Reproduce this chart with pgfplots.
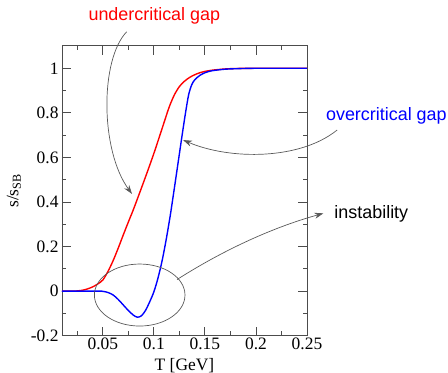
\documentclass[border=0pt]{standalone}
\usepackage{fontspec}
\setmainfont{Liberation Serif}
\newfontfamily\arial{Liberation Sans}
\usepackage{pgfplots}
\pgfplotsset{compat=1.18}
\usetikzlibrary{arrows.meta}
\begin{document}
\begin{tikzpicture}
\path[use as bounding box] (-62bp,-37.3bp) rectangle (386bp,335.7bp);
\begin{axis}[
  at={(0,0)}, anchor=south west,
  scale only axis, width=245bp, height=289.7bp,
  xmin=0.01, xmax=0.25, ymin=-0.2, ymax=1.1,
  xtick={0.05,0.1,0.15,0.2,0.25},
  xticklabels={0.05,0.1,0.15,0.2,0.25},
  ytick={-0.2,0,0.2,0.4,0.6,0.8,1},
  yticklabels={-0.2,0,0.2,0.4,0.6,0.8,1},
  minor xtick={0.025,0.075,0.125,0.175,0.225},
  minor ytick={-0.1,0.1,0.3,0.5,0.7,0.9},
  tick align=inside,
  major tick length=9bp, minor tick length=4.5bp,
  axis line style={black!70, line width=1pt},
  every tick/.style={black!70, line width=0.9pt},
  tick label style={font=\fontsize{17.5}{17.5}\selectfont, black},
  xticklabel style={yshift=1bp},
  /pgf/number format/assume math mode=true,
  xlabel={T [GeV]}, ylabel={s/s\textsubscript{SB}},
  every axis x label/.style={at={(axis description cs:0.5,-0.1184)}, anchor=base, font=\fontsize{17.5}{17.5}\selectfont},
  every axis y label/.style={at={(axis description cs:-0.1784,0.5)}, anchor=base, rotate=90, font=\fontsize{17.5}{17.5}\selectfont},
  clip=false,
]
\addplot[red, line width=1.4pt, smooth, tension=0.5] coordinates {
(0.010,0) (0.020,0) (0.025,0.001) (0.030,0.004) (0.035,0.010) (0.040,0.019)
(0.045,0.032) (0.050,0.050) (0.055,0.088) (0.060,0.136) (0.065,0.192)
(0.070,0.252) (0.075,0.310) (0.080,0.367) (0.085,0.428) (0.090,0.490)
(0.095,0.553) (0.100,0.618) (0.105,0.687) (0.110,0.757) (0.115,0.826)
(0.120,0.880) (0.125,0.918) (0.130,0.942) (0.135,0.959) (0.140,0.971)
(0.145,0.980) (0.150,0.986) (0.155,0.990) (0.160,0.993) (0.170,0.997)
(0.180,0.999) (0.200,1.000) (0.250,1.000)
};
\addplot[blue, line width=1.4pt, smooth, tension=0.5] coordinates {
(0.010,0) (0.045,0) (0.050,-0.001) (0.055,-0.006) (0.060,-0.017)
(0.065,-0.037) (0.070,-0.062) (0.075,-0.087) (0.080,-0.108) (0.084,-0.117)
(0.088,-0.110) (0.092,-0.085) (0.096,-0.047) (0.100,-0.003) (0.104,0.058)
(0.108,0.135) (0.112,0.230) (0.116,0.338) (0.120,0.460) (0.124,0.585)
(0.128,0.710) (0.131,0.800) (0.134,0.880) (0.137,0.925) (0.140,0.948)
(0.145,0.968) (0.150,0.980) (0.155,0.987) (0.160,0.991) (0.170,0.996)
(0.180,0.998) (0.200,1.000) (0.250,1.000)
};
\node[anchor=base west, inner sep=0pt, text=red, font=\arial\fontsize{18}{18}\selectfont] at (axis cs:0.0358,1.2133) {undercritical gap};
\node[anchor=base west, inner sep=0pt, text=blue, font=\arial\fontsize{18}{18}\selectfont] at (axis cs:0.2685,0.7646) {overcritical gap};
\node[anchor=base west, inner sep=0pt, text=black, font=\arial\fontsize{18}{18}\selectfont] at (axis cs:0.2767,0.3267) {instability};
\draw[-{Stealth[length=9bp,width=6bp]}, black!65, line width=0.7pt] (axis cs:0.0734,1.164) .. controls (axis cs:0.0472,1.040) and (axis cs:0.0472,0.633) .. (axis cs:0.0786,0.436);
\draw[-{Stealth[length=9bp,width=6bp]}, black!65, line width=0.7pt] (axis cs:0.2795,0.723) .. controls (axis cs:0.2432,0.588) and (axis cs:0.1746,0.588) .. (axis cs:0.1286,0.678);
\draw[black!65, line width=0.7pt] (axis cs:0.0861,-0.0175) ellipse [x radius=45.3bp, y radius=31bp];
\draw[-{Stealth[length=9bp,width=6bp]}, black!65, line width=0.7pt] (axis cs:0.1227,0.052) .. controls (axis cs:0.1648,0.175) and (axis cs:0.2138,0.283) .. (axis cs:0.2661,0.349);
\end{axis}
\end{tikzpicture}
\end{document}
